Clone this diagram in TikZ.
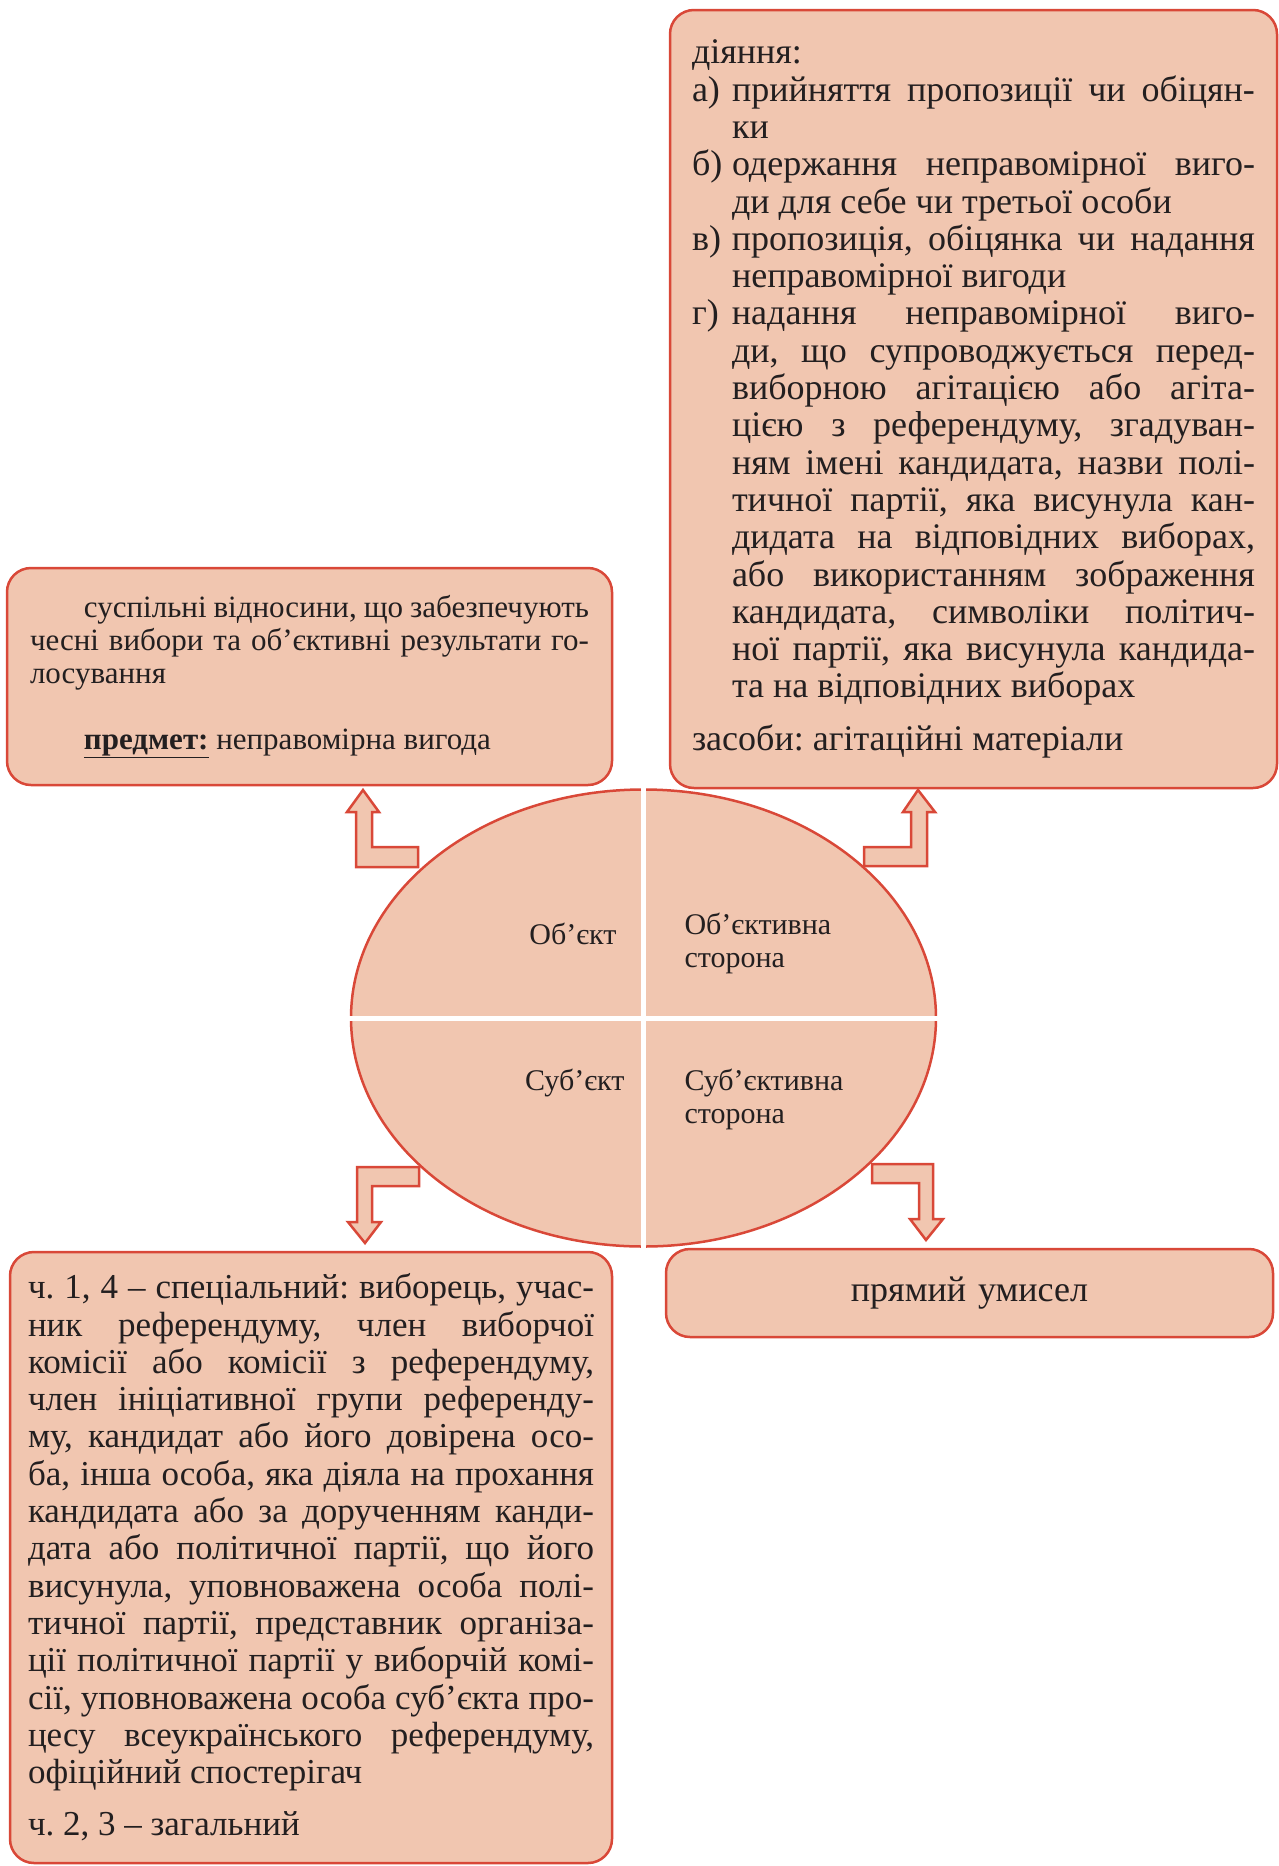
\documentclass[tikz,border=0pt]{standalone}
\usepackage{fontspec}
\setmainfont{Liberation Serif}
\usetikzlibrary{shapes.geometric}

\definecolor{peach}{RGB}{241,198,176}
\definecolor{brick}{RGB}{217,72,56}
\definecolor{ink}{RGB}{35,31,32}

\tolerance=10000
\hbadness=10000
\frenchspacing

\newcommand{\punkt}[1]{\par\hangindent=40pt\hangafter=1\noindent\makebox[40pt][l]{#1}}

\begin{document}
\begin{tikzpicture}[x=1pt,y=-1pt,
    box/.style={draw=brick, fill=peach, line width=2.5pt, rounded corners=24pt, anchor=north west, outer sep=0pt, inner ysep=0pt, text=ink, align=justify},
    bigtext/.style={font=\fontsize{36}{37.3}\selectfont},
    smalltext/.style={font=\fontsize{30}{33}\selectfont, text=ink},
    blockarrow/.style={draw=brick, fill=peach, line width=2.5pt}]

%size of the page
\useasboundingbox (0,0) rectangle (1279,1866);

%grid help
% \draw[gray, very thin, step=100] (0,0) grid (1279,1866);

%Object box
\node[box, minimum width=605, minimum height=217, text width=559, inner xsep=23,
      font=\fontsize{31}{33}\selectfont] (object) at (7,568) {%
\hspace*{54pt}суспільні відносини, що забезпечують\linebreak чесні вибори та об’єктивні результати го-\linebreak лосування\par
\vspace{33pt}
\hspace*{54pt}\underline{\textbf{предмет:}} неправомірна вигода};

%Objective side box
\node[box, bigtext, minimum width=607, minimum height=778, text width=563, inner xsep=22] (objside) at (670,10) {%
діяння:
\punkt{а)}прийняття пропозиції чи обіцян-\linebreak ки
\punkt{б)}одержання неправомірної виго-\linebreak ди для себе чи третьої особи
\punkt{в)}пропозиція, обіцянка чи надання\linebreak неправомірної вигоди
\punkt{г)}надання неправомірної виго-\linebreak ди, що супроводжується перед-\linebreak виборною агітацією або агіта-\linebreak цією з референдуму, згадуван-\linebreak ням імені кандидата, назви полі-\linebreak тичної партії, яка висунула кан-\linebreak дидата на відповідних виборах,\linebreak або використанням зображення\linebreak кандидата, символіки політич-\linebreak ної партії, яка висунула кандида-\linebreak та на відповідних виборах\par
\vspace{15pt}
\noindent засоби: агітаційні матеріали};

%Subject box
\node[box, font=\fontsize{35}{37.3}\selectfont, minimum width=602, minimum height=611, text width=566, inner xsep=18] (subject) at (10,1252) {%
ч. 1, 4 – спеціальний: виборець, учас-\linebreak ник референдуму, член виборчої\linebreak комісії або комісії з референдуму,\linebreak член ініціативної групи референду-\linebreak му, кандидат або його довірена осо-\linebreak ба, інша особа, яка діяла на прохання\linebreak кандидата або за дорученням канди-\linebreak дата або політичної партії, що його\linebreak висунула, уповноважена особа полі-\linebreak тичної партії, представник організа-\linebreak ції політичної партії у виборчій комі-\linebreak сії, уповноважена особа суб’єкта про-\linebreak цесу всеукраїнського референдуму,\linebreak офіційний спостерігач\par
\vspace{15pt}
ч. 2, 3 – загальний};

%Subjective side box
\node[box, bigtext, minimum width=607, minimum height=88, text width=563, inner xsep=22, align=center] (subjside) at (666,1249) {прямий умисел};

%Oval in the middle
\node[ellipse, draw=brick, fill=peach, line width=2.5pt, minimum width=585, minimum height=457, inner sep=0pt] (oval) at (643.5,1018) {};
% white cross
\draw[white, line width=5pt, shorten <=-4pt, shorten >=-4pt] (oval.north) -- (oval.south);
\draw[white, line width=5pt, shorten <=-4pt, shorten >=-4pt] (oval.west) -- (oval.east);

%Labels in the oval
\node[smalltext, anchor=east] (lobject) at (620,934) {Об’єкт};
\node[smalltext, anchor=west, align=left] (lobjside) at (681,943.5) {Об’єктивна\\сторона};
\node[smalltext, anchor=east] (lsubject) at (628,1083) {Суб’єкт};
\node[smalltext, anchor=west, align=left] (lsubjside) at (681,1099.5) {Суб’єктивна\\сторона};

% Arrow up to the object
    \draw[blockarrow] (363,790) -- (379,812) -- (372,812) -- (372,847) -- (418,847) -- (418,867) -- (356,867) -- (356,812) -- (347,812) -- cycle;
% Arrow up to the objective side
    \draw[blockarrow] (918,790) -- (935,812) -- (927,812) -- (927,866) -- (864,866) -- (864,847) -- (911,847) -- (911,812) -- (903,812) -- cycle;
% Arrow down to the subject
    \draw[blockarrow] (357,1167) -- (419,1167) -- (419,1186) -- (372,1186) -- (372,1222) -- (381,1222) -- (365,1243) -- (348,1222) -- (357,1222) -- cycle;
% Arrow down to the subjective side
    \draw[blockarrow] (872,1164) -- (933,1164) -- (933,1219) -- (943,1219) -- (926,1240) -- (910,1219) -- (919,1219) -- (919,1183) -- (872,1183) -- cycle;

\end{tikzpicture}
\end{document}
